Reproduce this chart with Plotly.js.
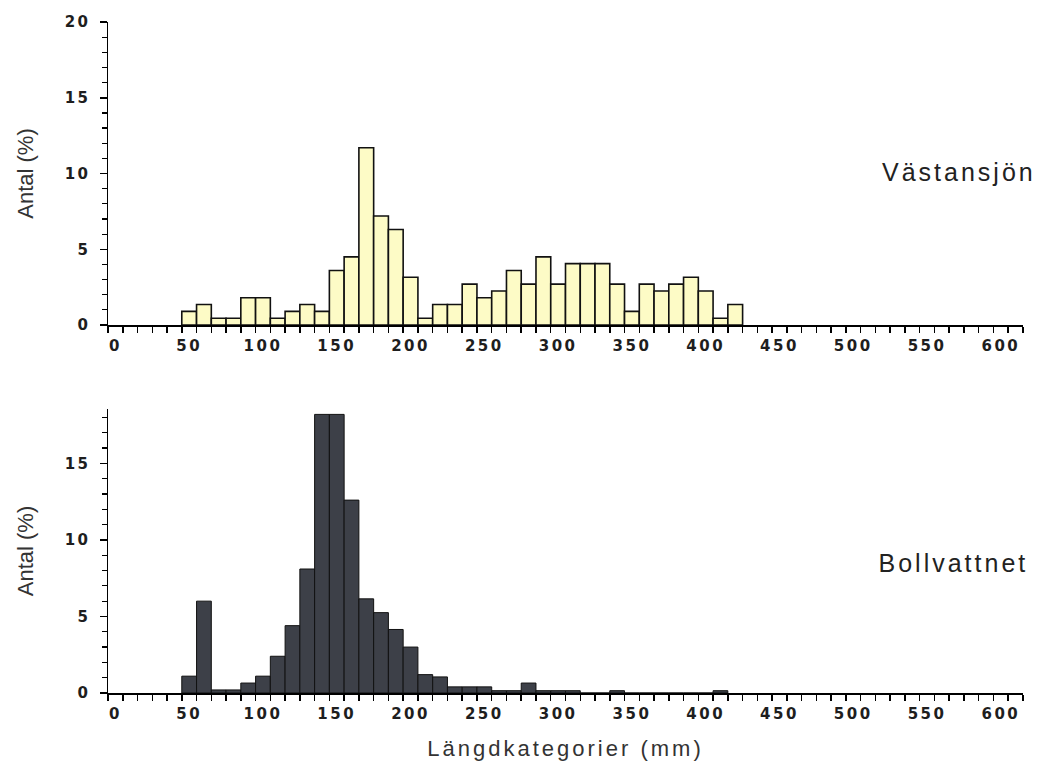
<!DOCTYPE html>
<html>
<head>
<meta charset="utf-8">
<script src="https://cdn.plot.ly/plotly-3.0.1.min.js"></script>
<style>
html,body{margin:0;padding:0;background:#fff;}
#chart .xtick text, #chart .x2tick text, #chart .ytick text, #chart .y2tick text { letter-spacing: 2.5px; }
#chart .g-x2title text { letter-spacing: 3px; }
#chart .annotation-text { letter-spacing: 3px; }
</style>
</head>
<body>
<div id="chart" style="width:1037px;height:765px;"></div>
<script>
// Length classes (mm), 10 mm bins
const binsVast = [50,60,70,80,90,100,110,120,130,140,150,160,170,180,190,200,210,220,230,240,250,260,270,280,290,300,310,320,330,340,350,360,370,380,390,400,410,420];
const pctVast  = [0.9,1.35,0.45,0.45,1.8,1.8,0.45,0.9,1.35,0.9,3.6,4.5,11.7,7.2,6.3,3.15,0.45,1.35,1.35,2.7,1.8,2.25,3.6,2.7,4.5,2.7,4.05,4.05,4.05,2.7,0.9,2.7,2.25,2.7,3.15,2.25,0.45,1.35];

const binsBoll = [50,60,70,80,90,100,110,120,130,140,150,160,170,180,190,200,210,220,230,240,250,260,270,280,290,300,310,320,330,340,350,360,370,380,390,400,410];
const pctBoll  = [1.1,6.0,0.2,0.2,0.65,1.1,2.4,4.4,8.1,18.2,18.2,12.6,6.15,5.25,4.15,3.0,1.2,1.05,0.4,0.4,0.4,0.15,0.15,0.65,0.15,0.15,0.15,0,0,0.15,0,0,0,0,0,0,0.15];

const lakeNames = ["Västansjön", "Bollvattnet"];
const xTitle = "Längdkategorier (mm)";
const yTitle = "Antal (%)";

const tickFont = {family: "DejaVu Sans", size: 15, color: "#1e1e1e", weight: "bold"};
const yTitleFont = {family: "Liberation Sans, Arial, sans-serif", size: 22, color: "#333"};
const xTitleFont = {family: "Liberation Sans, Arial, sans-serif", size: 22, color: "#333"};

function xaxisDef(anchor) {
  return {
    anchor: anchor, range: [-5, 615], showgrid: false, zeroline: false,
    showline: true, linecolor: "#000", linewidth: 1.5,
    tickmode: "linear", tick0: 0, dtick: 50, ticks: "", ticklabelstandoff: 6,
    tickfont: tickFont,
    minor: {tickmode: "linear", tick0: 5, dtick: 10, ticks: "outside", ticklen: 6, tickwidth: 1.5, tickcolor: "#000"}
  };
}
function yaxisDef(anchor, domain, range) {
  return {
    anchor: anchor, domain: domain, range: range, showgrid: false, zeroline: false,
    showline: true, linecolor: "#000", linewidth: 1.5,
    tickmode: "linear", tick0: 0, dtick: 5, ticks: "outside", ticklen: 7, tickwidth: 1.5, tickcolor: "#000",
    ticklabelstandoff: 6,
    tickfont: tickFont,
    minor: {tickmode: "linear", tick0: 0, dtick: 1, ticks: "outside", ticklen: 5, tickwidth: 1.2, tickcolor: "#000"},
    title: {text: yTitle, font: yTitleFont, standoff: 30}
  };
}

const traces = [
  {type: "bar", x: binsVast, y: pctVast, width: 10, xaxis: "x", yaxis: "y",
   marker: {color: "#fdfbc6", line: {color: "#111", width: 1.6}}, hoverinfo: "x+y"},
  {type: "bar", x: binsBoll, y: pctBoll, width: 10, xaxis: "x2", yaxis: "y2",
   marker: {color: "#3d4048", line: {color: "#111", width: 1}}, hoverinfo: "x+y"}
];

const xa2 = xaxisDef("y2");
xa2.title = {text: xTitle, font: xTitleFont, standoff: 19};

const layout = {
  width: 1037, height: 765,
  margin: {l: 108, r: 14, t: 22, b: 72},
  paper_bgcolor: "#fff", plot_bgcolor: "#fff",
  showlegend: false, bargap: 0,
  xaxis: xaxisDef("y"),
  yaxis: yaxisDef("x", [0.5484, 1.0], [0, 20]),
  xaxis2: xa2,
  yaxis2: yaxisDef("x2", [0, 0.4232], [0, 18.55]),
  annotations: [
    {text: lakeNames[0], xref: "paper", yref: "paper", x: 1.0, y: 0.776, xanchor: "right", yanchor: "middle",
     showarrow: false, font: {family: "Liberation Sans, Arial, sans-serif", size: 25, color: "#222"}},
    {text: lakeNames[1], xref: "paper", yref: "paper", x: 0.99, y: 0.194, xanchor: "right", yanchor: "middle",
     showarrow: false, font: {family: "Liberation Sans, Arial, sans-serif", size: 25, color: "#222"}}
  ]
};

Plotly.newPlot("chart", traces, layout, {displayModeBar: false, staticPlot: true});
</script>
</body>
</html>
